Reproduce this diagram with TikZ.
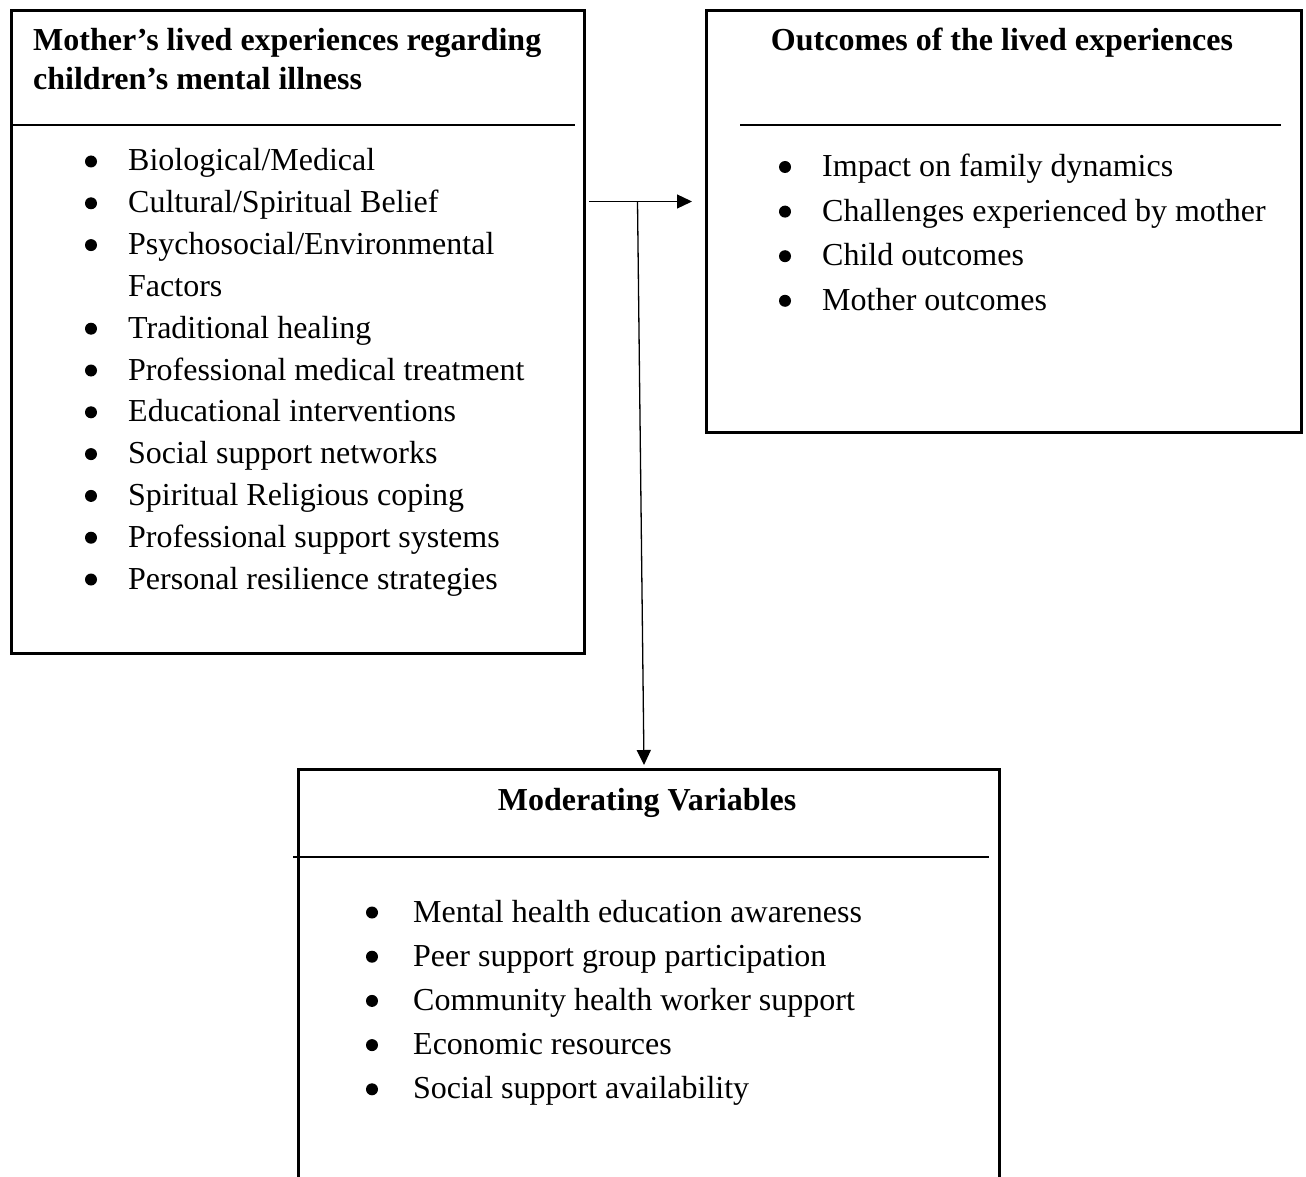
\documentclass[tikz,border=0pt]{standalone}
\usepackage{fontspec}
\setmainfont{Liberation Serif}
\usetikzlibrary{arrows.meta}
\tikzset{
  box/.style={draw, line width=2.6pt, inner sep=0pt, anchor=north west},
  divider/.style={line width=1.4pt},
  item/.style={anchor=base west, inner sep=0pt, font=\fontsize{32}{38}\selectfont},
  ttl/.style={inner sep=0pt, font=\fontsize{32}{38}\selectfont\bfseries},
  arr/.style={line width=1.3pt, -{Triangle[length=15pt,width=14pt]}},
  bul/.style={fill=black},
}
\begin{document}
\begin{tikzpicture}[x=1pt,y=-1pt]
\useasboundingbox (0,0) rectangle (1306,1177);
\clip (0,0) rectangle (1306,1177);
\fill[white] (0,0) rectangle (1306,1177);

% boxes
\node[box, minimum width=573pt, minimum height=643pt] (A) at (10,9) {};
\node[box, minimum width=595pt, minimum height=422pt] (B) at (705,9) {};
\node[box, minimum width=701pt, minimum height=500pt] (C) at (297,768) {};

% dividers
\draw[divider] (13,125) -- (575,125);
\draw[divider] (740,125) -- (1281,125);
\draw[divider] (293,857) -- (989,857);

% titles
\node[ttl, anchor=base west] (At1) at (33,51) {Mother’s lived experiences regarding};
\node[ttl, anchor=base west] (At2) at (33,90) {children’s mental illness};
\node[ttl, anchor=base] (Bt) at (1002,51) {Outcomes of the lived experiences};
\node[ttl, anchor=base] (Ct) at (647,810) {Moderating Variables};

% box A items
\foreach \t [count=\i from 0] in {Biological/Medical, Cultural/Spiritual Belief, Psychosocial/Environmental, Factors, Traditional healing, Professional medical treatment, Educational interventions, Social support networks, Spiritual Religious coping, Professional support systems, Personal resilience strategies}{
  \node[item] (a\i) at (128,171+41.8*\i) {\t};
}
\foreach \i in {0,1,2,4,5,6,7,8,9,10}{
  \fill[bul] ([xshift=-37pt,yshift=9.5pt]a\i.base west) circle (6pt);
}

% box B items
\foreach \t [count=\i from 0] in {Impact on family dynamics, Challenges experienced by mother, Child outcomes, Mother outcomes}{
  \node[item] (b\i) at (822,176.5+44.6*\i) {\t};
  \fill[bul] ([xshift=-37pt,yshift=9.5pt]b\i.base west) circle (6pt);
}

% box C items
\foreach \t [count=\i from 0] in {Mental health education awareness, Peer support group participation, Community health worker support, Economic resources, Social support availability}{
  \node[item] (c\i) at (413,922+44.2*\i) {\t};
  \fill[bul] ([xshift=-41pt,yshift=9.5pt]c\i.base west) circle (6pt);
}

% connectors
\coordinate (hs) at (589,201.5);
\coordinate (he) at (692,201.5);
\coordinate (split) at (637.5,201.5);
\coordinate (ve) at (644,765);
\draw[arr] (hs) -- (he);
\draw[arr] (split) -- (ve);
\end{tikzpicture}
\end{document}
